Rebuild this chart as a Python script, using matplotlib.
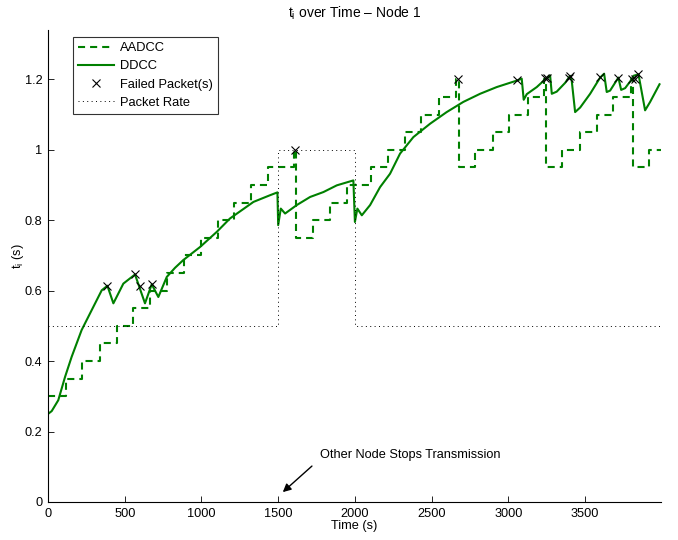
import matplotlib
matplotlib.use("Agg")
import matplotlib.pyplot as plt

plt.rcParams['font.family'] = ['Liberation Sans', 'DejaVu Sans']
plt.rcParams['mathtext.fontset'] = 'custom'
plt.rcParams['mathtext.rm'] = 'Liberation Sans'
plt.rcParams['mathtext.it'] = 'Liberation Sans:italic'

# AADCC (step values)
aadcc_t = [0, 115, 222, 339, 447, 555, 665, 775, 885, 995, 1105, 1215, 1325, 1435,
           1600, 1615, 1725, 1840, 1950, 2105, 2215, 2327, 2431, 2548, 2660, 2680,
           2785, 2900, 3005, 3125, 3235, 3245, 3350, 3465, 3575, 3685, 3800, 3815,
           3918, 4000]
aadcc_v = [0.30, 0.35, 0.40, 0.45, 0.50, 0.55, 0.60, 0.65, 0.70, 0.75, 0.80, 0.85,
           0.90, 0.95, 1.00, 0.75, 0.80, 0.85, 0.90, 0.95, 1.00, 1.05, 1.10, 1.15,
           1.20, 0.95, 1.00, 1.05, 1.10, 1.15, 1.20, 0.95, 1.00, 1.05, 1.10, 1.15,
           1.20, 0.95, 1.00, 1.00]

# DDCC
ddcc_t = [0, 24, 67, 111, 154, 219, 285, 350, 387, 426, 491, 567, 632, 676, 719,
          774, 828, 882, 991, 1100, 1186, 1339, 1447, 1495, 1500, 1517, 1545, 1621,
          1708, 1795, 1882, 1990, 2000, 2016, 2045, 2099, 2164, 2229, 2294, 2381,
          2490, 2598, 2707, 2816, 2924, 3059, 3087, 3100, 3120, 3185, 3240, 3272,
          3283, 3315, 3370, 3402, 3412, 3435, 3468, 3533, 3598, 3624, 3641, 3663,
          3717, 3735, 3761, 3804, 3815, 3848, 3859, 3891, 3924, 3985]
ddcc_v = [0.25, 0.258, 0.289, 0.355, 0.412, 0.488, 0.545, 0.601, 0.614, 0.564,
          0.620, 0.646, 0.564, 0.618, 0.582, 0.639, 0.665, 0.687, 0.724, 0.767,
          0.805, 0.852, 0.871, 0.879, 0.786, 0.833, 0.819, 0.843, 0.866, 0.880,
          0.899, 0.913, 0.795, 0.833, 0.814, 0.843, 0.894, 0.932, 0.989, 1.036,
          1.074, 1.107, 1.136, 1.159, 1.178, 1.197, 1.202, 1.142, 1.158, 1.178,
          1.200, 1.211, 1.159, 1.165, 1.190, 1.210, 1.200, 1.107, 1.120, 1.159,
          1.205, 1.216, 1.164, 1.168, 1.205, 1.170, 1.175, 1.200, 1.210, 1.214,
          1.188, 1.112, 1.136, 1.186]

# Failed packets
fail_t = [387, 567, 600, 676, 1610, 2670, 3059, 3240, 3252, 3393, 3402, 3598,
          3717, 3804, 3826, 3848]
fail_v = [0.614, 0.646, 0.614, 0.618, 1.0, 1.2, 1.197, 1.205, 1.205, 1.205, 1.21,
          1.206, 1.205, 1.20, 1.20, 1.214]

# Packet rate
rate_t = [0, 1500, 2000, 4000]
rate_v = [0.5, 1.0, 0.5, 0.5]

xticks = [0, 500, 1000, 1500, 2000, 2500, 3000, 3500]
yticks = [0, 0.2, 0.4, 0.6, 0.8, 1.0, 1.2]
yticklabels = ['0', '0.2', '0.4', '0.6', '0.8', '1', '1.2']

green = '#008000'
fig = plt.figure(figsize=(6.78, 5.40), dpi=100)
ax = fig.add_axes([0.0708, 0.0704, 0.9042, 0.874])

ax.plot(aadcc_t, aadcc_v, drawstyle='steps-post', color=green, lw=1.5,
        dashes=(3.4, 2.4), label='AADCC')
ax.plot(ddcc_t, ddcc_v, color=green, lw=1.5, label='DDCC')
ax.plot(fail_t, fail_v, linestyle='none', marker='x', color='black', ms=6,
        mew=0.8, label='Failed Packet(s)')
ax.plot(rate_t, rate_v, drawstyle='steps-post', color='black', lw=0.7,
        dashes=(1, 3.5), label='Packet Rate')

ax.set_xlim(0, 3995)
ax.set_ylim(0, 1.34)
ax.set_xticks(xticks)
ax.set_yticks(yticks)
ax.set_yticklabels(yticklabels)
for s in ['top', 'right']:
    ax.spines[s].set_visible(False)
for s in ['left', 'bottom']:
    ax.spines[s].set_linewidth(0.8)
ax.tick_params(direction='in', length=4, width=0.6, labelsize=9.2, pad=4)

ax.set_title(r'$\mathregular{t_i}$ over Time – Node 1', fontsize=10, pad=9)
ax.set_xlabel('Time (s)', fontsize=9.2, labelpad=0)
ax.set_ylabel(r'$\mathregular{t_i}$ (s)', fontsize=9.2)
ax.yaxis.set_label_coords(-0.036, 0.52)

leg = ax.legend(loc='upper left', bbox_to_anchor=(0.041, 0.985), borderaxespad=0,
                fontsize=9.3, handlelength=2.8, labelspacing=0.47, handletextpad=0.4,
                borderpad=0.4, fancybox=False, frameon=True)
leg.get_frame().set_edgecolor('black')
leg.get_frame().set_linewidth(0.8)

ax.text(1773, 0.133, 'Other Node Stops Transmission', fontsize=9.2,
        va='center', ha='left')
ax.annotate('', xy=(1530, 0.028), xytext=(1720, 0.102),
            arrowprops=dict(arrowstyle='-|>', color='black', lw=1.0,
                            mutation_scale=12, shrinkA=0, shrinkB=0))

fig.savefig('out.png', dpi=100)
